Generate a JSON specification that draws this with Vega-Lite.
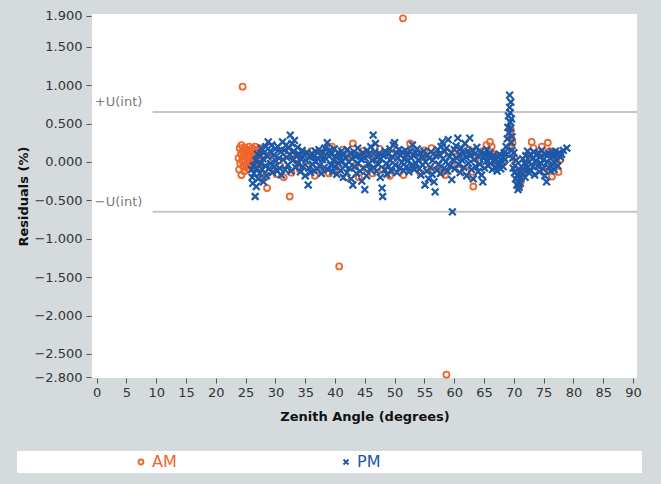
{
  "$schema": "https://vega.github.io/schema/vega-lite/v6.json",
  "background": "#d5dadd",
  "autosize": {"type": "none"},
  "padding": {"left": 92, "top": 14, "right": 24, "bottom": 106},
  "width": 545,
  "height": 364,
  "view": {"fill": "white", "stroke": null},
  "config": {
    "font": "DejaVu Sans",
    "axis": {"labelFont": "DejaVu Sans", "titleFont": "DejaVu Sans", "labelFontSize": 13, "titleFontSize": 13, "labelColor": "#333333", "titleColor": "#111111", "tickColor": "#555555", "grid": false, "domain": false, "tickSize": 5}
  },
  "datasets": {
    "am": [
      {"z":24.5,"r":0.98},{"z":51.4,"r":1.87},{"z":40.7,"r":-1.36},{"z":58.7,"r":-2.77},{"z":32.4,"r":-0.45},{"z":28.6,"r":-0.34},
      {"z":23.8,"r":0.05},{"z":23.9,"r":-0.1},{"z":24.0,"r":0.18},{"z":24.1,"r":-0.02},{"z":24.2,"r":0.1},{"z":24.3,"r":0.22},{"z":24.3,"r":-0.17},{"z":24.4,"r":0.02},{"z":24.5,"r":0.14},{"z":24.6,"r":-0.06},{"z":24.7,"r":0.08},{"z":24.8,"r":0.19},{"z":24.8,"r":-0.12},{"z":24.9,"r":0.0},{"z":25.0,"r":0.12},{"z":25.1,"r":-0.04},{"z":25.2,"r":0.16},{"z":25.3,"r":0.06},{"z":25.4,"r":-0.09},{"z":25.5,"r":0.1},{"z":25.6,"r":0.2},{"z":25.6,"r":-0.01},{"z":25.7,"r":0.08},{"z":25.8,"r":0.14},{"z":25.9,"r":-0.06},{"z":26.0,"r":0.03},{"z":26.1,"r":0.18},{"z":26.2,"r":0.1},{"z":26.3,"r":-0.02},{"z":26.4,"r":0.15},{"z":26.5,"r":0.06},{"z":26.6,"r":0.2},{"z":26.7,"r":-0.05},{"z":26.8,"r":0.11},{"z":26.9,"r":0.02},{"z":27.0,"r":0.16},{"z":27.1,"r":0.08},{"z":27.2,"r":-0.08},{"z":27.3,"r":0.13},{"z":27.4,"r":0.04},{"z":27.5,"r":0.18},
      {"z":27.7,"r":-0.15},{"z":28.0,"r":0.1},{"z":28.3,"r":-0.2},{"z":29.0,"r":-0.12},{"z":29.6,"r":0.05},{"z":30.2,"r":-0.16},{"z":30.8,"r":-0.05},{"z":31.4,"r":-0.2},{"z":32.0,"r":0.08},{"z":32.7,"r":-0.14},{"z":33.3,"r":0.04},{"z":34.1,"r":-0.1},{"z":34.7,"r":0.12},{"z":35.4,"r":-0.06},{"z":36.0,"r":0.14},{"z":36.6,"r":-0.18},{"z":37.2,"r":0.09},{"z":37.8,"r":-0.12},{"z":38.4,"r":0.13},{"z":39.0,"r":-0.15},{"z":39.5,"r":0.2},{"z":40.1,"r":0.02},{"z":40.7,"r":-0.1},{"z":41.3,"r":0.16},{"z":41.9,"r":-0.2},{"z":42.5,"r":0.08},{"z":43.0,"r":0.24},{"z":43.4,"r":-0.05},{"z":44.0,"r":-0.2},{"z":44.6,"r":0.14},{"z":45.2,"r":-0.08},{"z":45.8,"r":0.1},{"z":46.3,"r":-0.15},{"z":46.9,"r":0.05},{"z":47.5,"r":0.17},{"z":48.0,"r":-0.1},{"z":48.6,"r":0.12},{"z":49.2,"r":-0.18},{"z":49.7,"r":0.04},{"z":50.3,"r":0.15},{"z":50.9,"r":-0.12},{"z":51.5,"r":-0.17},{"z":52.0,"r":0.1},{"z":52.6,"r":0.24},{"z":53.1,"r":-0.07},{"z":53.7,"r":0.12},{"z":54.3,"r":-0.14},{"z":54.8,"r":0.06},{"z":55.0,"r":0.15},{"z":55.6,"r":-0.1},{"z":56.2,"r":0.18},{"z":56.8,"r":-0.05},{"z":57.3,"r":0.1},{"z":57.9,"r":-0.13},{"z":58.5,"r":-0.17},{"z":59.0,"r":0.12},{"z":59.6,"r":-0.04},{"z":60.2,"r":0.14},{"z":60.8,"r":-0.1},{"z":61.4,"r":0.08},{"z":62.0,"r":-0.12},{"z":62.5,"r":0.16},{"z":62.9,"r":-0.2},{"z":63.2,"r":-0.32},{"z":63.6,"r":0.05},{"z":64.2,"r":-0.06},{"z":64.8,"r":0.14},{"z":65.4,"r":0.22},{"z":66.0,"r":0.26},{"z":66.3,"r":0.2},{"z":66.8,"r":0.1},{"z":67.3,"r":-0.04},{"z":67.9,"r":0.08},{"z":68.4,"r":0.0},{"z":68.9,"r":0.15},{"z":69.3,"r":0.2},{"z":69.5,"r":0.42},{"z":69.6,"r":0.31},{"z":69.4,"r":0.36},{"z":69.8,"r":0.25},{"z":70.1,"r":0.05},{"z":70.4,"r":-0.1},{"z":70.6,"r":-0.23},{"z":70.9,"r":-0.32},{"z":71.2,"r":-0.25},{"z":71.6,"r":-0.12},{"z":72.1,"r":0.04},{"z":72.6,"r":-0.08},{"z":73.0,"r":0.26},{"z":73.3,"r":0.18},{"z":73.8,"r":-0.05},{"z":74.3,"r":0.1},{"z":74.7,"r":0.2},{"z":75.2,"r":-0.12},{"z":75.7,"r":0.25},{"z":76.0,"r":0.14},{"z":76.4,"r":-0.19},{"z":76.9,"r":0.05},{"z":77.2,"r":-0.01},{"z":77.5,"r":-0.13},{"z":77.8,"r":0.03}
    ],
    "pm": [
      {"z":26.0,"r":-0.1},{"z":26.1,"r":-0.2},{"z":26.2,"r":-0.28},{"z":26.3,"r":-0.05},{"z":26.4,"r":-0.15},{"z":26.6,"r":-0.45},{"z":26.7,"r":0.02},{"z":26.8,"r":-0.32},{"z":26.9,"r":-0.08},{"z":27.0,"r":0.1},{"z":27.1,"r":-0.22},{"z":27.3,"r":0.08},{"z":27.4,"r":-0.15},{"z":27.5,"r":-0.02},{"z":27.6,"r":0.18},{"z":27.8,"r":-0.1},{"z":27.9,"r":0.04},
      {"z":28.0,"r":-0.26},{"z":28.1,"r":0.12},{"z":28.3,"r":-0.05},{"z":28.4,"r":0.2},{"z":28.5,"r":-0.18},{"z":28.7,"r":0.07},{"z":28.8,"r":0.26},{"z":28.9,"r":-0.09},{"z":29.1,"r":0.14},{"z":29.2,"r":-0.02},{"z":29.4,"r":0.22},{"z":29.5,"r":-0.14},{"z":29.7,"r":0.09},{"z":29.8,"r":-0.06},
      {"z":30.0,"r":0.17},{"z":30.1,"r":0.01},{"z":30.3,"r":-0.12},{"z":30.4,"r":0.2},{"z":30.6,"r":0.05},{"z":30.7,"r":-0.08},{"z":30.9,"r":0.13},{"z":31.0,"r":-0.17},{"z":31.2,"r":0.26},{"z":31.3,"r":0.03},{"z":31.5,"r":0.15},{"z":31.6,"r":-0.1},{"z":31.8,"r":0.22},{"z":31.9,"r":0.06},
      {"z":32.1,"r":-0.04},{"z":32.2,"r":0.18},{"z":32.4,"r":0.1},{"z":32.5,"r":0.35},{"z":32.6,"r":-0.12},{"z":32.8,"r":0.24},{"z":32.9,"r":0.02},{"z":33.1,"r":0.14},{"z":33.2,"r":0.28},{"z":33.4,"r":-0.07},{"z":33.5,"r":0.08},{"z":33.7,"r":0.19},{"z":33.8,"r":-0.02},
      {"z":34.0,"r":0.1},{"z":34.2,"r":-0.13},{"z":34.3,"r":0.04},{"z":34.5,"r":0.15},{"z":34.6,"r":-0.06},{"z":34.8,"r":0.09},{"z":35.0,"r":-0.18},{"z":35.1,"r":0.02},{"z":35.3,"r":0.12},{"z":35.5,"r":-0.3},{"z":35.6,"r":-0.08},{"z":35.8,"r":0.06},{"z":35.9,"r":-0.14},
      {"z":36.1,"r":0.11},{"z":36.2,"r":-0.03},{"z":36.4,"r":0.07},{"z":36.5,"r":-0.11},{"z":36.7,"r":0.14},{"z":36.8,"r":0.0},{"z":37.0,"r":-0.09},{"z":37.1,"r":0.05},{"z":37.3,"r":0.16},{"z":37.4,"r":-0.05},{"z":37.6,"r":0.09},{"z":37.7,"r":-0.15},{"z":37.9,"r":0.03},
      {"z":38.0,"r":0.12},{"z":38.2,"r":-0.07},{"z":38.3,"r":0.18},{"z":38.5,"r":0.04},{"z":38.7,"r":0.25},{"z":38.8,"r":-0.1},{"z":39.0,"r":0.08},{"z":39.1,"r":0.15},{"z":39.3,"r":-0.04},{"z":39.4,"r":0.1},{"z":39.6,"r":-0.13},{"z":39.7,"r":0.02},{"z":39.9,"r":0.17},
      {"z":40.0,"r":-0.06},{"z":40.2,"r":0.06},{"z":40.3,"r":-0.16},{"z":40.5,"r":0.12},{"z":40.6,"r":-0.02},{"z":40.8,"r":0.08},{"z":40.9,"r":-0.11},{"z":41.1,"r":0.14},{"z":41.2,"r":0.01},{"z":41.4,"r":-0.2},{"z":41.5,"r":0.1},{"z":41.7,"r":-0.05},{"z":41.8,"r":0.05},
      {"z":42.0,"r":-0.14},{"z":42.1,"r":0.16},{"z":42.3,"r":0.0},{"z":42.4,"r":-0.08},{"z":42.6,"r":0.11},{"z":42.7,"r":-0.22},{"z":42.9,"r":0.04},{"z":43.0,"r":-0.3},{"z":43.2,"r":0.13},{"z":43.3,"r":-0.06},{"z":43.5,"r":0.07},{"z":43.6,"r":-0.15},{"z":43.8,"r":0.18},{"z":43.9,"r":-0.02},
      {"z":44.1,"r":0.09},{"z":44.2,"r":-0.12},{"z":44.4,"r":0.03},{"z":44.5,"r":-0.25},{"z":44.7,"r":0.12},{"z":44.8,"r":-0.08},{"z":45.0,"r":-0.36},{"z":45.1,"r":0.05},{"z":45.3,"r":-0.18},{"z":45.4,"r":0.15},{"z":45.6,"r":-0.03},{"z":45.7,"r":0.1},{"z":45.9,"r":-0.1},
      {"z":46.0,"r":0.2},{"z":46.2,"r":0.02},{"z":46.4,"r":0.35},{"z":46.5,"r":-0.07},{"z":46.7,"r":0.13},{"z":46.8,"r":0.24},{"z":47.0,"r":-0.12},{"z":47.1,"r":0.06},{"z":47.3,"r":-0.03},{"z":47.4,"r":0.11},{"z":47.6,"r":-0.2},{"z":47.7,"r":0.04},{"z":47.9,"r":-0.34},
      {"z":48.0,"r":-0.45},{"z":48.1,"r":0.08},{"z":48.3,"r":-0.1},{"z":48.4,"r":0.14},{"z":48.6,"r":-0.02},{"z":48.7,"r":-0.16},{"z":48.9,"r":0.1},{"z":49.0,"r":-0.06},{"z":49.2,"r":0.17},{"z":49.3,"r":0.02},{"z":49.5,"r":-0.12},{"z":49.6,"r":0.07},{"z":49.8,"r":0.22},
      {"z":50.0,"r":0.25},{"z":50.1,"r":-0.04},{"z":50.3,"r":0.12},{"z":50.4,"r":-0.14},{"z":50.6,"r":0.05},{"z":50.7,"r":0.16},{"z":50.9,"r":-0.08},{"z":51.0,"r":0.09},{"z":51.2,"r":-0.01},{"z":51.3,"r":0.13},{"z":51.5,"r":-0.11},{"z":51.6,"r":0.04},{"z":51.8,"r":0.15},
      {"z":52.0,"r":-0.06},{"z":52.1,"r":0.1},{"z":52.3,"r":0.02},{"z":52.4,"r":-0.13},{"z":52.6,"r":0.14},{"z":52.7,"r":0.06},{"z":52.9,"r":-0.04},{"z":53.0,"r":0.22},{"z":53.2,"r":0.08},{"z":53.3,"r":-0.1},{"z":53.5,"r":0.12},{"z":53.6,"r":-0.02},{"z":53.8,"r":0.17},
      {"z":54.0,"r":0.03},{"z":54.1,"r":-0.09},{"z":54.3,"r":0.11},{"z":54.4,"r":-0.17},{"z":54.6,"r":0.06},{"z":54.7,"r":-0.04},{"z":54.9,"r":0.14},{"z":55.1,"r":-0.3},{"z":55.2,"r":0.0},{"z":55.4,"r":-0.12},{"z":55.5,"r":0.09},{"z":55.7,"r":-0.22},{"z":55.8,"r":0.05},
      {"z":56.0,"r":-0.07},{"z":56.1,"r":0.13},{"z":56.3,"r":-0.16},{"z":56.4,"r":0.02},{"z":56.6,"r":-0.26},{"z":56.8,"r":-0.39},{"z":56.9,"r":0.08},{"z":57.1,"r":-0.11},{"z":57.2,"r":0.16},{"z":57.4,"r":-0.03},{"z":57.5,"r":0.1},{"z":57.7,"r":-0.15},{"z":57.8,"r":0.2},
      {"z":58.0,"r":0.26},{"z":58.1,"r":0.04},{"z":58.3,"r":-0.08},{"z":58.4,"r":0.14},{"z":58.6,"r":0.0},{"z":58.7,"r":0.18},{"z":58.9,"r":-0.12},{"z":59.0,"r":0.29},{"z":59.2,"r":0.07},{"z":59.3,"r":-0.05},{"z":59.5,"r":0.12},{"z":59.6,"r":-0.23},{"z":59.7,"r":-0.65},{"z":59.8,"r":0.03},
      {"z":60.0,"r":0.16},{"z":60.1,"r":-0.09},{"z":60.3,"r":0.21},{"z":60.4,"r":0.05},{"z":60.6,"r":0.31},{"z":60.7,"r":-0.03},{"z":60.9,"r":0.1},{"z":61.0,"r":-0.14},{"z":61.2,"r":0.18},{"z":61.3,"r":0.02},{"z":61.5,"r":0.12},{"z":61.6,"r":-0.07},{"z":61.8,"r":0.24},
      {"z":62.0,"r":0.06},{"z":62.1,"r":-0.18},{"z":62.3,"r":0.14},{"z":62.4,"r":-0.02},{"z":62.6,"r":0.31},{"z":62.7,"r":0.08},{"z":62.9,"r":-0.1},{"z":63.0,"r":0.15},{"z":63.2,"r":-0.22},{"z":63.3,"r":0.03},{"z":63.5,"r":0.11},{"z":63.6,"r":-0.06},{"z":63.8,"r":0.19},
      {"z":64.0,"r":-0.13},{"z":64.1,"r":0.07},{"z":64.3,"r":-0.03},{"z":64.4,"r":0.13},{"z":64.6,"r":-0.17},{"z":64.8,"r":-0.26},{"z":64.9,"r":0.05},{"z":65.1,"r":-0.08},{"z":65.2,"r":0.1},{"z":65.4,"r":0.01},{"z":65.5,"r":0.16},{"z":65.7,"r":-0.05},{"z":65.8,"r":0.08},
      {"z":66.0,"r":0.12},{"z":66.1,"r":-0.02},{"z":66.3,"r":0.06},{"z":66.4,"r":-0.1},{"z":66.6,"r":0.09},{"z":66.7,"r":0.0},{"z":66.9,"r":-0.07},{"z":67.0,"r":0.04},{"z":67.2,"r":-0.12},{"z":67.3,"r":0.07},{"z":67.5,"r":-0.04},{"z":67.6,"r":0.1},{"z":67.8,"r":-0.09},{"z":67.9,"r":0.02},
      {"z":68.1,"r":0.06},{"z":68.2,"r":-0.06},{"z":68.4,"r":0.12},{"z":68.5,"r":0.03},{"z":68.7,"r":0.2},{"z":68.8,"r":0.1},{"z":68.9,"r":0.3},{"z":69.0,"r":0.45},{"z":69.1,"r":0.6},{"z":69.2,"r":0.38},{"z":69.3,"r":0.87},{"z":69.3,"r":0.71},{"z":69.4,"r":0.52},{"z":69.4,"r":0.64},{"z":69.5,"r":0.78},{"z":69.5,"r":0.44},{"z":69.6,"r":0.25},{"z":69.6,"r":0.56},{"z":69.7,"r":0.33},{"z":69.7,"r":0.15},{"z":69.8,"r":0.05},{"z":69.9,"r":-0.08},
      {"z":70.0,"r":0.12},{"z":70.1,"r":-0.14},{"z":70.2,"r":-0.05},{"z":70.3,"r":-0.22},{"z":70.4,"r":0.02},{"z":70.5,"r":-0.3},{"z":70.6,"r":-0.18},{"z":70.7,"r":-0.36},{"z":70.8,"r":-0.26},{"z":70.9,"r":-0.33},{"z":71.0,"r":-0.12},{"z":71.1,"r":-0.28},{"z":71.2,"r":-0.2},{"z":71.3,"r":-0.06},{"z":71.4,"r":-0.16},{"z":71.5,"r":0.04},{"z":71.6,"r":-0.1},
      {"z":71.8,"r":-0.02},{"z":71.9,"r":-0.2},{"z":72.0,"r":0.08},{"z":72.2,"r":-0.08},{"z":72.3,"r":0.14},{"z":72.5,"r":-0.14},{"z":72.6,"r":0.0},{"z":72.8,"r":0.1},{"z":72.9,"r":-0.11},{"z":73.1,"r":0.04},{"z":73.2,"r":-0.06},{"z":73.4,"r":0.13},{"z":73.5,"r":-0.17},{"z":73.7,"r":0.02},{"z":73.8,"r":0.09},
      {"z":74.0,"r":-0.05},{"z":74.1,"r":0.12},{"z":74.3,"r":-0.13},{"z":74.4,"r":0.06},{"z":74.6,"r":-0.02},{"z":74.7,"r":0.15},{"z":74.9,"r":-0.09},{"z":75.0,"r":0.03},{"z":75.2,"r":-0.18},{"z":75.3,"r":0.1},{"z":75.5,"r":-0.26},{"z":75.6,"r":0.0},{"z":75.8,"r":0.11},{"z":75.9,"r":-0.07},
      {"z":76.1,"r":0.05},{"z":76.2,"r":-0.12},{"z":76.4,"r":0.13},{"z":76.5,"r":-0.03},{"z":76.7,"r":0.08},{"z":76.8,"r":-0.1},{"z":77.0,"r":0.14},{"z":77.1,"r":0.02},{"z":77.3,"r":0.09},{"z":77.4,"r":-0.05},{"z":77.6,"r":0.12},{"z":77.8,"r":0.06},{"z":78.0,"r":0.1},{"z":78.3,"r":0.15},{"z":78.9,"r":0.18}
    ],
    "limits": [{"u": 0.65, "label": "+U(int)"}, {"u": -0.65, "label": "\u2212U(int)"}]
  },
  "encoding": {
    "x": {"type": "quantitative", "scale": {"domain": [-0.77, 90.67], "nice": false, "zero": false},
          "axis": {"title": "Zenith Angle (degrees)", "values": [0,5,10,15,20,25,30,35,40,45,50,55,60,65,70,75,80,85,90], "labelPadding": 3, "titlePadding": 11, "labelFlush": false}},
    "y": {"type": "quantitative", "scale": {"domain": [-2.813, 1.926], "nice": false, "zero": false},
          "axis": {"title": "Residuals (%)", "values": [1.9,1.5,1,0.5,0,-0.5,-1,-1.5,-2,-2.5,-2.8], "format": ".3f", "offset": 1, "labelPadding": 4, "titlePadding": 3, "labelFlush": false}}
  },
  "layer": [
    {
      "data": {"name": "limits"},
      "mark": {"type": "rule", "color": "#c6c6c6", "strokeWidth": 2},
      "encoding": {"y": {"field": "u"}, "x": {"datum": 9.4}, "x2": {"datum": 90.67}}
    },
    {
      "data": {"name": "limits"},
      "mark": {"type": "text", "align": "left", "baseline": "bottom", "dy": -3, "fontSize": 13, "color": "#7a7a7a", "font": "DejaVu Sans"},
      "encoding": {"y": {"field": "u"}, "x": {"datum": -0.3}, "text": {"field": "label"}}
    },
    {
      "data": {"name": "am"},
      "mark": {"type": "point", "filled": false, "size": 36, "strokeWidth": 1.8, "opacity": 1},
      "encoding": {
        "x": {"field": "z"}, "y": {"field": "r"},
        "color": {"datum": "AM", "type": "nominal", "scale": {"domain": ["AM", "PM"], "range": ["#f0652b", "#1c58a8"]},
          "legend": {"title": "\u2800\u2800\u2800\u2800\u2800\u2800\u2800\u2800\u2800\u2800\u2800", "titleOrient": "left", "titlePadding": 1, "titleFontSize": 13, "titleLimit": 1000, "orient": "none", "legendX": -75, "legendY": 437, "direction": "horizontal", "fillColor": "white", "strokeColor": null, "padding": 3, "symbolSize": 25, "symbolStrokeWidth": 1.8, "labelFontSize": 16, "labelFont": "DejaVu Sans", "labelOffset": 3, "labelLimit": 1000, "columnPadding": 161, "labelColor": {"expr": "datum.label === 'AM' ? '#f0652b' : '#1c58a8'"}, "labelExpr": "datum.label === 'PM' ? 'PM\u2800\u2800\u2800\u2800\u2800\u2800\u2800\u2800\u2800\u2800\u2800\u2800\u2800\u2800\u2800\u2800\u2800\u2800\u2800\u2800\u2800\u2800' : datum.label"}},
        "shape": {"datum": "AM", "type": "nominal", "scale": {"domain": ["AM", "PM"], "range": ["circle", "M-1,-1L1,1M-1,1L1,-1"]},
          "legend": {"title": "\u2800\u2800\u2800\u2800\u2800\u2800\u2800\u2800\u2800\u2800\u2800", "titleOrient": "left", "titlePadding": 1, "titleFontSize": 13, "titleLimit": 1000, "orient": "none", "legendX": -75, "legendY": 437, "direction": "horizontal", "fillColor": "white", "strokeColor": null, "padding": 3, "symbolSize": 25, "symbolStrokeWidth": 1.8, "labelFontSize": 16, "labelFont": "DejaVu Sans", "labelOffset": 3, "labelLimit": 1000, "columnPadding": 161, "labelColor": {"expr": "datum.label === 'AM' ? '#f0652b' : '#1c58a8'"}, "labelExpr": "datum.label === 'PM' ? 'PM\u2800\u2800\u2800\u2800\u2800\u2800\u2800\u2800\u2800\u2800\u2800\u2800\u2800\u2800\u2800\u2800\u2800\u2800\u2800\u2800\u2800\u2800' : datum.label"}}
      }
    },
    {
      "data": {"name": "pm"},
      "mark": {"type": "point", "filled": false, "size": 46, "strokeWidth": 2.2, "opacity": 1},
      "encoding": {
        "x": {"field": "z"}, "y": {"field": "r"},
        "color": {"datum": "PM", "type": "nominal"},
        "shape": {"datum": "PM", "type": "nominal"}
      }
    }
  ]
}
